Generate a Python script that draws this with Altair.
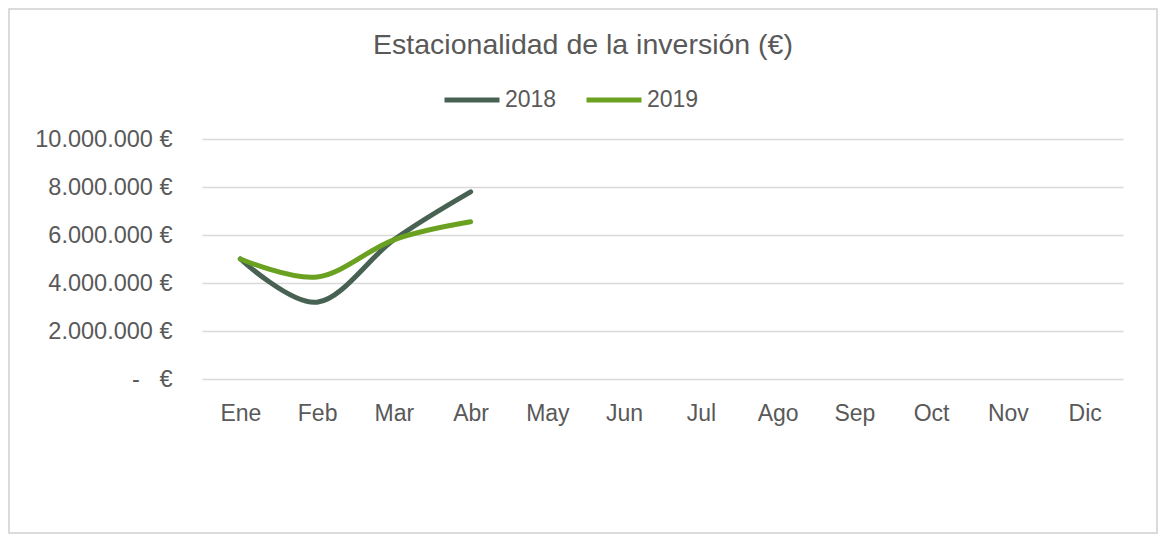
import altair as alt
import pandas as pd

months = ["Ene", "Feb", "Mar", "Abr", "May", "Jun", "Jul", "Ago", "Sep", "Oct", "Nov", "Dic"]
series_names = ["2018", "2019"]
months_2018 = ["Ene", "Feb", "Mar", "Abr"]
values_2018 = [5000000, 3200000, 5800000, 7800000]
months_2019 = ["Ene", "Feb", "Mar", "Abr"]
values_2019 = [5000000, 4250000, 5800000, 6550000]
y_ticks = [0, 2000000, 4000000, 6000000, 8000000, 10000000]
colors = ["#476152", "#6aa121"]
title_text = "Estacionalidad de la inversión (€)"

rows = []
for m, v in zip(months_2018, values_2018):
    rows.append({"mes": m, "valor": v, "serie": "2018"})
for m, v in zip(months_2019, values_2019):
    rows.append({"mes": m, "valor": v, "serie": "2019"})
df = pd.DataFrame(rows)

FONT = "Liberation Sans"
TXT = "#595959"
W, H = 921, 240
PAD = {"left": 194, "top": 131, "right": 35, "bottom": 155}

lines = alt.Chart(df).mark_line(
    interpolate="cardinal", strokeWidth=5, strokeCap="round", strokeJoin="round"
).encode(
    x=alt.X("mes:N", sort=months,
            scale=alt.Scale(type="point", domain=months, padding=0.5),
            axis=alt.Axis(title=None, labelFont=FONT, labelFontSize=23, labelColor=TXT,
                          labelPadding=23, ticks=False, domain=False, grid=False,
                          labelAngle=0)),
    y=alt.Y("valor:Q",
            scale=alt.Scale(domain=[0, 10000000], nice=False, zero=True),
            axis=alt.Axis(title=None, values=y_ticks, labelFont=FONT, labelFontSize=23.5,
                          labelColor=TXT, labelPadding=30, ticks=False, domain=False,
                          grid=True, gridColor="#d9d9d9", gridWidth=1.5,
                          labelExpr="datum.value == 0 ? '-\u00a0\u00a0\u00a0€' : replace(format(datum.value, ',.0f'), /,/g, '.') + ' €'")),
    color=alt.Color("serie:N",
                    scale=alt.Scale(domain=series_names, range=colors),
                    legend=alt.Legend(title=None, orient="none", direction="horizontal",
                                      legendX=240, legendY=-69,
                                      symbolType="stroke", symbolSize=3025,
                                      symbolStrokeWidth=5, labelFont=FONT,
                                      labelFontSize=23, labelColor=TXT,
                                      labelOffset=3, columnPadding=19)),
)

border = alt.Chart(alt.Data(values=[{}])).mark_rect(
    fill=None, stroke="#cfcfcf", strokeWidth=1.5
).encode(
    x=alt.value(-193), x2=alt.value(955),
    y=alt.value(-130), y2=alt.value(394),
)

title = alt.Chart(alt.Data(values=[{"t": title_text}])).mark_text(
    font=FONT, fontSize=28.5, color=TXT, align="center", baseline="alphabetic"
).encode(
    text="t:N", x=alt.value(381), y=alt.value(-85),
)

chart = alt.layer(border, title, lines).properties(
    width=W, height=H,
    padding=PAD,
    autosize=alt.AutoSizeParams(type="none"),
).configure_view(stroke=None)

chart.save("out.html", embed_options={"renderer": "svg", "actions": False})
